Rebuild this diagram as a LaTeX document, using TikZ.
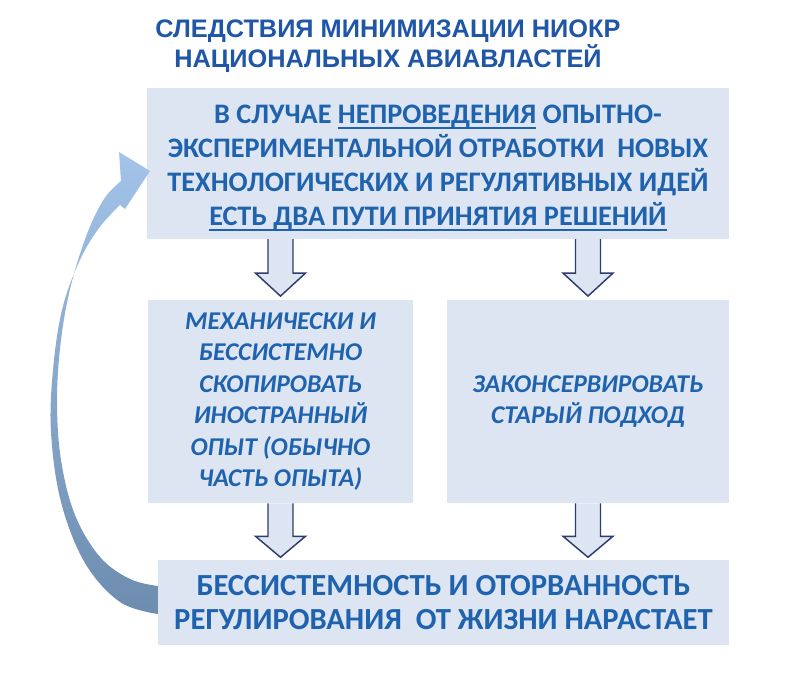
\documentclass[tikz,border=0pt]{standalone}
\usepackage{fontspec}
\setmainfont{Carlito}
\newfontfamily\titlefont{Liberation Sans}
\definecolor{boxfill}{HTML}{DCE5F1}
\definecolor{txtblue}{HTML}{1F62AE}
\definecolor{titleblue}{HTML}{1F56A6}
\definecolor{arrline}{HTML}{2E3D6B}
\definecolor{curvetop}{HTML}{A3C4E8}
\definecolor{curvebot}{HTML}{6C8CB0}
\newcommand\myul[1]{\setbox0\hbox{#1}\rlap{\rule[-3.6pt]{\wd0}{1.4pt}}\box0\relax}
\tikzset{
  box/.style={fill=boxfill, draw=none, inner sep=0pt, align=center, text=txtblue},
  boxtext/.style={inner sep=0pt, align=center, text=txtblue},
  barrow/.style={fill=boxfill, draw=arrline, line width=1.1pt, line join=miter},
  ttl/.style={align=center, text=titleblue, inner sep=0pt}
}
\begin{document}
\begin{tikzpicture}[x=0.75pt,y=-0.75pt]
\useasboundingbox (0,0) rectangle (800,675);
% title
\node[ttl, font=\titlefont\bfseries\fontsize{19}{22.5}\selectfont] (title) at (388,46)
  {СЛЕДСТВИЯ МИНИМИЗАЦИИ НИОКР\\НАЦИОНАЛЬНЫХ АВИАВЛАСТЕЙ};
% boxes
\node[box, minimum width=436.5pt, minimum height=113pt] (top) at (438,163.5) {};
\node[boxtext, font=\bfseries\fontsize{21.2}{25.5}\selectfont] (toptext) at (438,168)
  {В СЛУЧАЕ \myul{НЕПРОВЕДЕНИЯ} ОПЫТНО-\\
   ЭКСПЕРИМЕНТАЛЬНОЙ ОТРАБОТКИ\ \ НОВЫХ\\
   ТЕХНОЛОГИЧЕСКИХ И РЕГУЛЯТИВНЫХ ИДЕЙ\\
   \myul{ЕСТЬ ДВА ПУТИ ПРИНЯТИЯ РЕШЕНИЙ}};
\node[box, minimum width=198.75pt, minimum height=152.25pt,
      font=\bfseries\itshape\fontsize{19.2}{23.6}\selectfont] (left) at (280.5,401.5)
  {МЕХАНИЧЕСКИ И\\БЕССИСТЕМНО\\СКОПИРОВАТЬ\\ИНОСТРАННЫЙ\\ОПЫТ (ОБЫЧНО\\ЧАСТЬ ОПЫТА)};
\node[box, minimum width=211.5pt, minimum height=152.25pt,
      font=\bfseries\itshape\fontsize{19.2}{23.6}\selectfont] (right) at (588,401.5)
  {ЗАКОНСЕРВИРОВАТЬ\\СТАРЫЙ ПОДХОД};
\node[box, minimum width=428.25pt, minimum height=63.75pt,
      font=\bfseries\fontsize{23}{26}\selectfont] (bottom) at (443.5,602.5)
  {БЕССИСТЕМНОСТЬ И ОТОРВАННОСТЬ\\РЕГУЛИРОВАНИЯ\ \ ОТ ЖИЗНИ НАРАСТАЕТ};
% block arrows
\coordinate (a1) at (top.south -| left.center);
\coordinate (a2) at (top.south -| right.center);
\coordinate (a3) at (left.south);
\coordinate (a4) at (right.south);
\foreach \c in {a1,a2}{
  \filldraw[barrow] (\c) ++(-12.5,0) -- ++(0,34) -- ++(-12.5,0) -- ++(25,23)
     -- ++(25,-23) -- ++(-12.5,0) -- ++(0,-34);
}
\foreach \c in {a3,a4}{
  \filldraw[barrow] (\c) ++(-12.5,0) -- ++(0,33) -- ++(-12.5,0) -- ++(25,21)
     -- ++(25,-21) -- ++(-12.5,0) -- ++(0,-33);
}
% curved return arrow
\shade[top color=curvetop, bottom color=curvebot]
  plot[smooth, tension=0.6] coordinates {(158,614) (120,602) (85,563) (61,502) (51,432) (53,370) (62,310) (79,262) (99,228) (120,205)}
  -- (125,209) -- (150,171) -- (119,152) -- (121,181)
  -- plot[smooth, tension=0.6] coordinates {(121,181) (104,199) (87,234) (71,285) (61,340) (57,400) (61,460) (75,515) (100,557) (130,579) (158,586)}
  -- cycle;
\end{tikzpicture}
\end{document}
